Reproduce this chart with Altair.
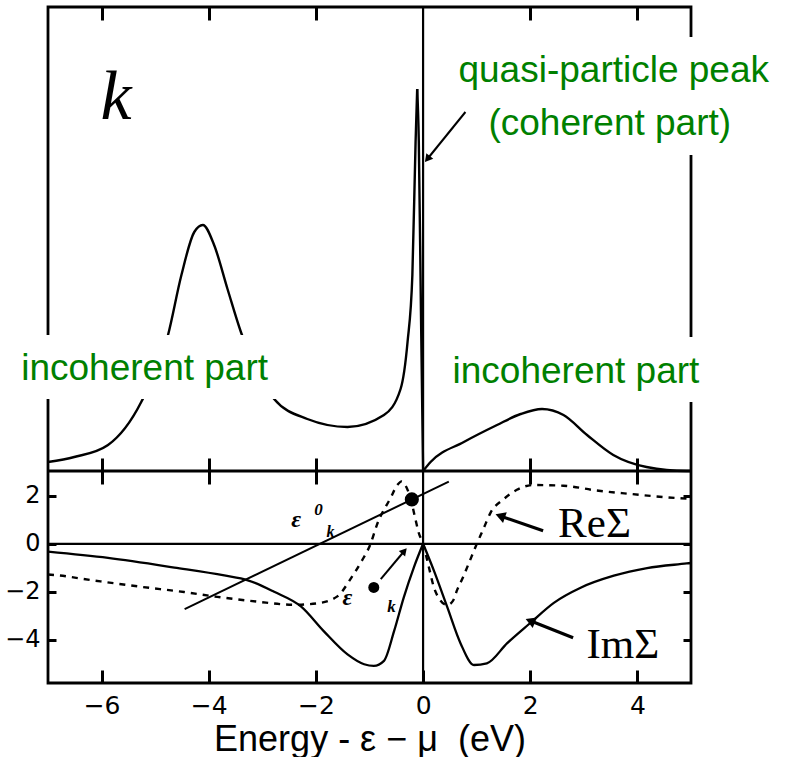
import altair as alt
import pandas as pd

# ---------------- data ----------------
# Top panel: spectral function A(k, w) (arbitrary units); seg splits the sharp cusps
A_x = [-7.0, -6.51, -5.88, -5.26, -4.76, -4.51, -4.27, -4.11, -3.90, -3.65, -3.40, -2.78,
       -2.16, -1.41, -0.73, -0.42, -0.29, -0.20, -0.14, -0.11,
       -0.11, -0.08, -0.04, 0.0,
       0.0, 0.14, 0.76, 1.38, 1.82, 2.22, 2.62, 3.06, 3.55, 4.17, 4.92, 5.0]
A_y = [0.09, 0.14, 0.26, 0.69, 1.36, 1.96, 2.39, 2.46, 2.26, 1.82, 1.39, 0.72,
       0.52, 0.44, 0.56, 0.82, 1.29, 1.96, 3.29, 3.82,
       3.82, 3.30, 1.60, 0.0,
       0.0, 0.09, 0.29, 0.46, 0.57, 0.62, 0.56, 0.36, 0.16, 0.04, 0.0, 0.0]
A_seg = [0] * 20 + [1] * 4 + [2] * 12

# Bottom panel: Im Sigma (solid), two branches meeting in a cusp at 0
Im_x = [-7.0, -5.88, -4.64, -3.71, -3.27, -2.78, -2.28, -1.85, -1.41, -1.10, -0.92, -0.73,
        -0.54, -0.36, -0.17, 0.0,
        0.0, 0.20, 0.45, 0.70, 0.95, 1.19, 1.57, 2.00, 2.44, 2.94, 3.56, 4.18, 4.92, 5.0]
Im_y = [-0.33, -0.59, -0.99, -1.32, -1.52, -2.00, -2.61, -3.65, -4.61, -5.02, -5.09, -4.88,
        -3.63, -2.23, -0.97, 0.0,
        0.0, -1.11, -2.63, -4.15, -5.05, -4.98, -4.14, -3.30, -2.46, -1.83, -1.33, -1.01, -0.82, -0.80]
Im_seg = [0] * 16 + [1] * 14

# Re Sigma (dashed)
Re_x = [-7.0, -6.88, -6.20, -5.27, -4.46, -3.84, -3.10, -2.41, -1.97, -1.60, -1.35, -1.16,
        -0.98, -0.86, -0.61, -0.48, -0.40, -0.32, -0.23, -0.15, -0.08, 0.0, 0.10, 0.20,
        0.32, 0.45, 0.55, 0.64, 0.75, 0.85, 0.98, 1.13, 1.26, 1.50, 1.75, 2.06, 2.62,
        3.24, 3.86, 4.48, 4.92, 5.0]
Re_y = [-1.28, -1.30, -1.51, -1.79, -2.01, -2.21, -2.41, -2.54, -2.48, -2.19, -1.45, -0.77,
        0.0, 0.80, 1.90, 2.45, 2.60, 2.40, 1.85, 1.10, 0.45, 0.0, -0.90, -1.80,
        -2.35, -2.55, -2.40, -1.90, -1.37, -0.83, -0.12, 0.64, 1.30, 1.85, 2.25, 2.45, 2.42,
        2.22, 2.08, 1.95, 1.88, 1.87]

# straight line w - eps0_k
Eps_x = [-4.45, 0.48]
Eps_y = [-2.72, 2.59]

# big dots: quasi-particle pole and eps*_k
Dot_x = [-0.21, -0.92]
Dot_y = [1.85, -1.82]
Dot_size = [200, 120]

# axis ticks
X_TICKS = [-6, -4, -2, 0, 2, 4]
X_INNER = [-6, -4, -2, 2, 4]
Y_TICKS = [2, 0, -2, -4]

X_DOMAIN = [-7, 5]
# the two panels share one plot area: each panel has its own y scale
TOP_DOMAIN = [-2.12, 4.64]      # A(k,w): 0 sits on the panel divider, 4.64 at the top
BOT_DOMAIN = [-5.8, 22.367]     # Sigma: -5.8 at the bottom, 3.0 at the divider

# annotations (data units)
green_text = ["quasi-particle peak", "(coherent part)", "incoherent part", "incoherent part"]
green_x = [0.66, 1.22, -7.5, 0.55]
green_y = [3.89, 3.36, 0.91, 0.88]

box_x = [-7.64, 0.33, 0.86]
box_x2 = [-2.50, 5.55, 6.55]
box_y = [0.72, 0.69, 3.16]
box_y2 = [1.36, 1.34, 4.34]

qp_arrow = dict(x=[0.79], y=[3.59], x2=[0.08], y2=[3.12], ang=[219])

sig_arrow_x = [2.24, 2.80, -0.79]
sig_arrow_y = [0.54, -3.91, -1.47]
sig_arrow_x2 = [1.44, 2.00, -0.35]
sig_arrow_y2 = [1.16, -3.21, -0.30]
sig_arrow_ang = [289, 292, 41]
sig_arrow_w = [3.2, 3.2, 2.0]
sig_arrow_size = [130, 130, 70]

sig_text = ["ReΣ", "ImΣ"]
sig_tx = [2.52, 3.05]
sig_ty = [0.28, -4.74]

eps_lbl = ["ε", "0", "k", "ε", "k"]
eps_lx = [-2.37, -1.95, -1.73, -1.41, -0.59]
eps_ly = [1.00, 1.40, 0.50, -2.25, -2.64]
eps_ls = [24, 17, 16, 24, 17]

W = 643
H = 676
H_TOP = 464
TK = 13     # inner tick length (px)
TKY = 8

xs = alt.Scale(domain=X_DOMAIN, nice=False, zero=False)
yt = alt.Scale(domain=TOP_DOMAIN, nice=False, zero=False)
yb = alt.Scale(domain=BOT_DOMAIN, nice=False, zero=False)

tick_style = dict(ticks=True, tickColor="black", tickWidth=3, tickOpacity=1, domain=False,
                  grid=False, zindex=5)

# x axes (all with inner ticks), one per child layer
ax_x_bottom = alt.Axis(values=X_TICKS, orient="bottom", offset=-TK, tickSize=TK, **tick_style,
                       labelFont="DejaVu Sans", labelFontSize=25, labelColor="black",
                       labelPadding=10, title="Energy - ε − μ\u00a0\u00a0(eV)",
                       titleFont="Liberation Sans", titleFontSize=36, titleFontWeight="normal",
                       titleColor="black", titlePadding=4)
ax_x_top = alt.Axis(values=X_INNER, orient="top", offset=-TK, tickSize=TK, labels=False,
                    title=None, **tick_style)
ax_x_div_up = alt.Axis(values=X_INNER, orient="top", offset=-H_TOP, tickSize=TK, labels=False,
                       title=None, **tick_style)
ax_x_div_down = alt.Axis(values=X_INNER, orient="bottom", offset=-(H - H_TOP), tickSize=TK,
                         labels=False, title=None, **tick_style)
# y axes of the Sigma panel
ax_y_left = alt.Axis(values=Y_TICKS, orient="left", offset=-TKY, tickSize=TKY, **tick_style,
                     labelFont="DejaVu Sans", labelFontSize=24, labelColor="black",
                     labelPadding=8, title=None)
ax_y_right = alt.Axis(values=Y_TICKS, orient="right", offset=-TKY, tickSize=TKY, labels=False,
                      title=None, **tick_style)


def X(axis, f="x"):
    return alt.X(f"{f}:Q", scale=xs, axis=axis)


def TY(f="y"):
    return alt.Y(f"{f}:Q", scale=yt, axis=None)


def BY(axis, f="y"):
    return alt.Y(f"{f}:Q", scale=yb, axis=axis)


# ---------------- top panel ----------------
AXT = ax_x_top
dfA = pd.DataFrame({"x": A_x, "y": A_y, "seg": A_seg})
curveA = alt.Chart(dfA).mark_line(interpolate="monotone", color="black", strokeWidth=2.4).encode(
    x=X(AXT), y=TY(), detail="seg:N")

dfBox = pd.DataFrame({"x": box_x, "x2": box_x2, "y": box_y, "y2": box_y2})
boxes = alt.Chart(dfBox).mark_rect(color="white").encode(x=X(AXT), x2="x2:Q", y=TY(), y2="y2:Q")

dfG = pd.DataFrame({"x": green_x, "y": green_y, "t": green_text})
greens = alt.Chart(dfG).mark_text(align="left", baseline="alphabetic", font="Liberation Sans",
                                  fontSize=37, color="#008000").encode(x=X(AXT), y=TY(), text="t:N")

k_label = alt.Chart(pd.DataFrame({"x": [-6.02], "y": [3.52], "t": ["k"]})).mark_text(
    align="left", baseline="alphabetic", font="Liberation Serif", fontStyle="italic",
    fontSize=70, color="black").encode(x=X(AXT), y=TY(), text="t:N")

dfQA = pd.DataFrame(qp_arrow)
qa_line = alt.Chart(dfQA).mark_rule(color="black", strokeWidth=2.0).encode(
    x=X(AXT), y=TY(), x2="x2:Q", y2="y2:Q")
qa_head = alt.Chart(dfQA).mark_point(shape="triangle-up", filled=True, color="black", opacity=1,
                                     size=80).encode(x=X(AXT, "x2"), y=TY("y2"),
                                                     angle=alt.Angle("ang:Q", scale=None))

top = alt.layer(curveA, boxes, greens, k_label, qa_line, qa_head)

# divider between the panels, with inner ticks pointing up (top panel) and down (bottom panel)
divider = alt.Chart(pd.DataFrame({"y": [0]})).mark_rule(color="black", strokeWidth=3).encode(y=TY())
div_up = alt.Chart(pd.DataFrame({"x": [0]})).mark_rule(color="black", strokeWidth=2.2).encode(
    x=X(ax_x_div_up))
div_down = alt.Chart(pd.DataFrame({"x": [0]})).mark_point(opacity=0).encode(x=X(ax_x_div_down))

# ---------------- bottom panel ----------------
AXB = ax_x_bottom
AYL = ax_y_left
hzero = alt.Chart(pd.DataFrame({"y": [0]})).mark_rule(color="black", strokeWidth=2.2).encode(
    y=BY(ax_y_right))

dfIm = pd.DataFrame({"x": Im_x, "y": Im_y, "seg": Im_seg})
imline = alt.Chart(dfIm).mark_line(interpolate="monotone", color="black", strokeWidth=2.3).encode(
    x=X(AXB), y=BY(AYL), detail="seg:N")

dfRe = pd.DataFrame({"x": Re_x, "y": Re_y})
reline = alt.Chart(dfRe).mark_line(interpolate="monotone", color="black", strokeWidth=2.4,
                                   strokeDash=[6, 6]).encode(x=X(AXB), y=BY(AYL))

dfEps = pd.DataFrame({"x": Eps_x, "y": Eps_y})
epsline = alt.Chart(dfEps).mark_line(color="black", strokeWidth=2.0).encode(x=X(AXB), y=BY(AYL))

dfDot = pd.DataFrame({"x": Dot_x, "y": Dot_y, "s": Dot_size})
dots = alt.Chart(dfDot).mark_point(shape="circle", filled=True, color="black", opacity=1).encode(
    x=X(AXB), y=BY(AYL), size=alt.Size("s:Q", scale=None, legend=None))

dfEL = pd.DataFrame({"x": eps_lx, "y": eps_ly, "t": eps_lbl, "s": eps_ls})
epslbl = alt.Chart(dfEL).mark_text(font="Liberation Serif", fontStyle="italic", color="black",
                                   fontWeight="bold").encode(
    x=X(AXB), y=BY(AYL), text="t:N", size=alt.Size("s:Q", scale=None, legend=None))

dfSA = pd.DataFrame({"x": sig_arrow_x, "y": sig_arrow_y, "x2": sig_arrow_x2, "y2": sig_arrow_y2,
                     "ang": sig_arrow_ang, "w": sig_arrow_w, "s": sig_arrow_size})
sa_line = alt.Chart(dfSA).mark_rule(color="black").encode(
    x=X(AXB), y=BY(AYL), x2="x2:Q", y2="y2:Q",
    strokeWidth=alt.StrokeWidth("w:Q", scale=None, legend=None))
sa_head = alt.Chart(dfSA).mark_point(shape="triangle-up", filled=True, color="black", opacity=1).encode(
    x=X(AXB, "x2"), y=BY(AYL, "y2"), angle=alt.Angle("ang:Q", scale=None),
    size=alt.Size("s:Q", scale=None, legend=None))

dfST = pd.DataFrame({"x": sig_tx, "y": sig_ty, "t": sig_text})
sigtxt = alt.Chart(dfST).mark_text(align="left", baseline="alphabetic", font="Liberation Serif",
                                   fontSize=43, color="black").encode(x=X(AXB), y=BY(AYL), text="t:N")

bottom = alt.layer(imline, reline, epsline, dots, epslbl, sa_line, sa_head, sigtxt)

chart = alt.layer(top, divider, div_up, div_down, hzero, bottom).resolve_scale(
    y="independent").resolve_axis(x="independent", y="independent").properties(
    width=W, height=H,
    padding={"left": 4, "top": 5, "right": 5, "bottom": 0},
    background="white",
).configure_view(stroke="black", strokeWidth=2.8)

chart.save("out.html", embed_options={"renderer": "svg", "actions": False})
